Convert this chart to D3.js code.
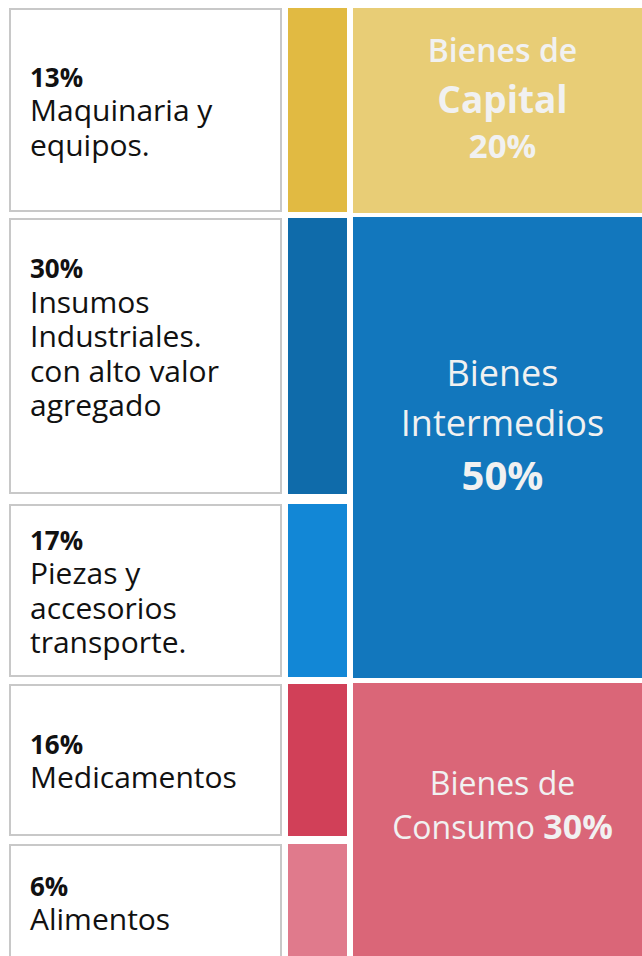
<!DOCTYPE html>
<html>
<head>
<meta charset="utf-8">
<script src="https://cdn.jsdelivr.net/npm/d3@7"></script>
<style>
  html, body { margin: 0; padding: 0; background: #fff; }
  svg { display: block; }
  .item-text { font-family: "Open Sans", sans-serif; fill: #111; }
  .group-text { font-family: "Open Sans", sans-serif; fill: #f1f1f1; }
</style>
</head>
<body>
<svg id="chart"></svg>
<script>
// sub-categories (left column)
const itemIds = ['maquinaria', 'insumos', 'piezas', 'medicamentos', 'alimentos'];
const itemShares = [13, 30, 17, 16, 6];
const itemLabels = [
  ['Maquinaria y', 'equipos.'],
  ['Insumos', 'Industriales.', 'con alto valor', 'agregado'],
  ['Piezas y', 'accesorios', 'transporte.'],
  ['Medicamentos'],
  ['Alimentos']
];
const itemGroup = ['capital', 'intermedios', 'intermedios', 'consumo', 'consumo'];
const itemColors = ['#e1ba42', '#0f6baa', '#1287d6', '#d14058', '#e07a8c'];

// groups (right column)
const groupIds = ['capital', 'intermedios', 'consumo'];
const groupShares = [20, 50, 30];
const groupColors = ['#e8cd76', '#1277bd', '#da6678'];

// layout: rows are not proportional to the shares in the original, so bands are set by hand
const W = 642, H = 956;
const rowEdges = [[8, 212], [218, 494], [504, 677], [684, 836], [844, 960]];
const rowNudge = [0, -20, 0, 0, 0];
const col = { boxX0: 10, boxX1: 281, barX0: 288, barX1: 347, grpX0: 353, grpX1: 652 };
const lineH = 34.5;

const svg = d3.select('#chart').attr('width', W).attr('height', H);

const rowBand = d3.scaleOrdinal().domain(itemIds).range(rowEdges);

// text boxes
const rows = svg.append('g').selectAll('g')
  .data(itemIds)
  .join('g');

rows.append('rect')
  .attr('x', col.boxX0)
  .attr('y', d => rowBand(d)[0] + 1)
  .attr('width', col.boxX1 - col.boxX0)
  .attr('height', d => rowBand(d)[1] - rowBand(d)[0] - 2)
  .attr('fill', '#fff')
  .attr('stroke', '#c8c8c8')
  .attr('stroke-width', 2);

rows.append('rect')
  .attr('x', col.barX0)
  .attr('y', d => rowBand(d)[0])
  .attr('width', col.barX1 - col.barX0)
  .attr('height', d => rowBand(d)[1] - rowBand(d)[0])
  .attr('fill', (d, i) => itemColors[i]);

rows.each(function (d, i) {
  const [y0, y1] = rowBand(d);
  const lines = [itemShares[i] + '%'].concat(itemLabels[i]);
  const first = (y0 + y1) / 2 - (lines.length - 1) * lineH / 2 + 11 + rowNudge[i];
  const t = d3.select(this).append('text').attr('class', 'item-text');
  lines.forEach((ln, k) => {
    t.append('tspan')
      .attr('x', 30)
      .attr('y', first + k * lineH)
      .attr('font-size', k === 0 ? 26 : 30)
      .attr('font-weight', k === 0 ? 700 : 400)
      .text(ln);
  });
});

// group blocks span their member rows
const groupBand = id => {
  const members = itemIds.filter((_, i) => itemGroup[i] === id).map(rowBand);
  return [d3.min(members, m => m[0]) - 1, d3.max(members, m => m[1]) + 1];
};

const groups = svg.append('g').selectAll('g')
  .data(groupIds)
  .join('g');

groups.append('rect')
  .attr('x', col.grpX0)
  .attr('y', d => Math.max(8, groupBand(d)[0]))
  .attr('width', col.grpX1 - col.grpX0)
  .attr('height', d => groupBand(d)[1] - Math.max(8, groupBand(d)[0]))
  .attr('fill', (d, i) => groupColors[i]);

const cx = (col.grpX0 + col.grpX1) / 2;
const groupLines = {
  capital: [
    { parts: [['Bienes de', 600, 32]], dy: -49 },
    { parts: [['Capital', 700, 37]], dy: 2 },
    { parts: [[groupShares[0] + '%', 700, 33]], dy: 47 }
  ],
  intermedios: [
    { parts: [['Bienes', 400, 36]], dy: -62 },
    { parts: [['Intermedios', 400, 36]], dy: -12 },
    { parts: [[groupShares[1] + '%', 700, 40]], dy: 42 }
  ],
  consumo: [
    { parts: [['Bienes de', 400, 32]], dy: -25 },
    { parts: [['Consumo ', 400, 32], [groupShares[2] + '%', 700, 34]], dy: 19 }
  ]
};

groups.each(function (d) {
  const [y0, y1] = groupBand(d);
  const cy = (Math.max(8, y0) + Math.min(H, y1)) / 2;
  groupLines[d].forEach(line => {
    const t = d3.select(this).append('text')
      .attr('class', 'group-text')
      .attr('x', cx)
      .attr('y', cy + line.dy)
      .attr('text-anchor', 'middle');
    line.parts.forEach(([txt, w, s]) => {
      t.append('tspan').attr('font-weight', w).attr('font-size', s).text(txt);
    });
  });
});
</script>
</body>
</html>
